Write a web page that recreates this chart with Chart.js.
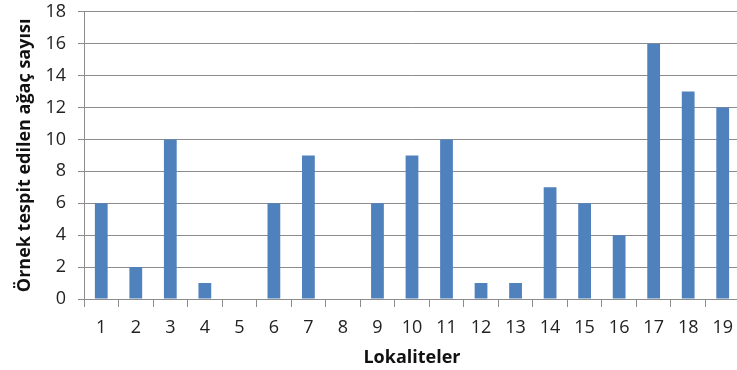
<!DOCTYPE html>
<html>
<head>
<meta charset="utf-8">
<script src="https://cdn.jsdelivr.net/npm/chart.js@4.4.0/dist/chart.umd.min.js"></script>
<style>
  html, body { margin: 0; padding: 0; background: #fff; overflow: hidden; }
  #wrap { width: 743px; height: 381px; position: relative; top: -11px; }
</style>
</head>
<body>
<div id="wrap"><canvas id="grafik"></canvas></div>
<script>
// veriler
const lokaliteler = ['1','2','3','4','5','6','7','8','9','10','11','12','13','14','15','16','17','18','19'];
const agacSayisi = [6, 2, 10, 1, 0, 6, 9, 0, 6, 9, 10, 1, 1, 7, 6, 4, 16, 13, 12];
const yEksenAdi = 'Örnek tespit edilen ağaç sayısı';
const xEksenAdi = 'Lokaliteler';

const gri = '#8c8c8c';
const yaziFont = "'Open Sans', 'DejaVu Sans', sans-serif";

const ctx = document.getElementById('grafik').getContext('2d');
new Chart(ctx, {
  type: 'bar',
  data: {
    labels: lokaliteler,
    datasets: [{
      data: agacSayisi,
      backgroundColor: '#4f81bd',
      borderWidth: 0,
      categoryPercentage: 1,
      barPercentage: 0.37
    }]
  },
  options: {
    responsive: true,
    maintainAspectRatio: false,
    animation: false,
    layout: { padding: 0 },
    plugins: { legend: { display: false }, tooltip: { enabled: false } },
    scales: {
      x: {
        offset: true,
        grid: { display: true, drawOnChartArea: false, drawTicks: true, tickLength: 8, color: gri, offset: true },
        border: { display: true, color: gri, width: 1 },
        ticks: { color: '#222', font: { family: yaziFont, size: 18 }, padding: 10, maxRotation: 0 },
        title: { display: true, text: xEksenAdi, color: '#111', font: { family: yaziFont, size: 18, weight: 'bold' }, padding: { top: 0, bottom: 1 } },
        afterFit: s => { s.height = 71; }
      },
      y: {
        min: 0,
        max: 18,
        ticks: { stepSize: 2, color: '#222', font: { family: yaziFont, size: 18 }, padding: 12 },
        grid: { color: gri, lineWidth: 1, tickLength: 6, drawTicks: true },
        border: { display: true, color: gri, width: 1 },
        title: { display: true, text: yEksenAdi, color: '#111', font: { family: yaziFont, size: 18, weight: 'bold' }, padding: { top: 14, bottom: 0 } },
        afterFit: s => { s.width = 84; }
      }
    }
  }
});
</script>
</body>
</html>
